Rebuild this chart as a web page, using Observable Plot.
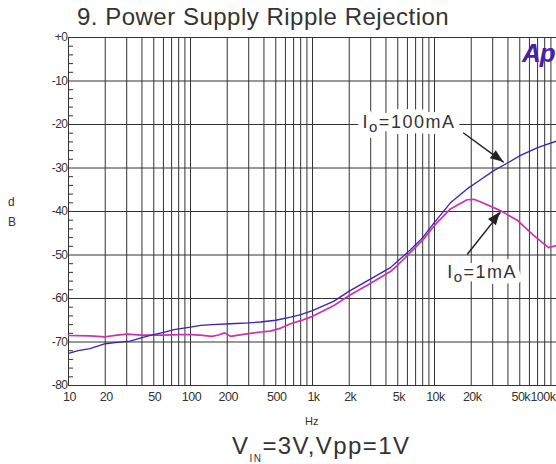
<!DOCTYPE html>
<html><head><meta charset="utf-8">
<script src="https://cdn.jsdelivr.net/npm/d3@7"></script>
<script src="https://cdn.jsdelivr.net/npm/@observablehq/plot@0.6"></script>
<style>
body{margin:0;background:#fff;}
#wrap{position:relative;width:556px;height:464px;overflow:hidden;font-family:"Liberation Sans",Arial,sans-serif;background:#fff;}
#wrap svg{position:absolute;left:0;top:0;}
.abs{position:absolute;white-space:nowrap;line-height:1;}
#title{left:77px;top:5px;font-size:24px;color:#333;letter-spacing:0.5px;}
#caption{left:232px;top:434px;font-size:24px;color:#333;letter-spacing:1.4px;}
#caption sub{font-size:10px;vertical-align:-8px;letter-spacing:1.5px;}
#hz{left:305px;top:416px;font-size:11px;color:#333;}
#db{left:8px;top:192px;font-size:12px;color:#333;line-height:20px;}
#logo{left:522px;top:40px;font-size:26px;font-weight:bold;font-style:italic;color:#4a1fae;letter-spacing:-1px;}
</style></head>
<body>
<div id="wrap">
  <div class="abs" id="title">9. Power Supply Ripple Rejection</div>
  <div class="abs" id="caption">V<sub>IN</sub>=3V,Vpp=1V</div>
  <div class="abs" id="hz">Hz</div>
  <div class="abs" id="db">d<br>B</div>
</div>
<script>
// ---- data ----
const xGrid = [10,20,30,40,50,60,70,80,90,100,200,300,400,500,600,700,800,900,1000,2000,3000,4000,5000,6000,7000,8000,9000,10000,20000,30000,40000,50000,60000,70000,80000,90000,100000];
const yGrid = [0,-10,-20,-30,-40,-50,-60,-70,-80];
const yMinor = [-2,-4,-6,-8,-12,-14,-16,-18,-22,-24,-26,-28,-32,-34,-36,-38,-42,-44,-46,-48,-52,-54,-56,-58,-62,-64,-66,-68,-72,-74,-76,-78];
const yTickValues = [0,-10,-20,-30,-40,-50,-60,-70,-80];
const yTickLabels = ["+0","-10","-20","-30","-40","-50","-60","-70","-80"];
const xTickValues = [10,20,50,100,200,500,1000,2000,5000,10000,20000,50000];
const xTickLabels = ["10","20","50","100","200","500","1k","2k","5k","10k","20k","50k"];
const xLastValue = [100000];
const xLastLabel = ["100k"];

// Io = 100mA
const f100 = [10,12,15,20,25,32,40,47,60,75,100,121,150,213,300,375,500,661,800,1000,1500,2000,3000,4350,5000,6350,8000,10000,13500,18500,23800,30600,40000,50700,70000,100000];
const db100 = [-72.6,-72.0,-71.5,-70.4,-70.1,-69.8,-69.0,-68.5,-67.8,-67.1,-66.6,-66.2,-66.0,-65.8,-65.6,-65.4,-65.0,-64.3,-63.7,-62.8,-60.6,-58.3,-55.5,-52.9,-51.4,-48.8,-46.0,-42.5,-38.0,-34.8,-32.7,-30.6,-28.8,-27.1,-25.3,-23.8];
// Io = 1mA
const f1 = [10,15,20,25,30,40,60,80,100,120,150,170,190,213,280,375,450,550,661,800,1000,1500,2000,3000,4350,5000,6350,8000,10000,13500,18500,21000,24000,34700,47600,65000,86000,100000];
const db1 = [-68.5,-68.6,-68.8,-68.4,-68.2,-68.4,-68.4,-68.3,-68.3,-68.4,-68.7,-68.4,-67.9,-68.7,-68.2,-67.7,-67.5,-66.8,-65.8,-65.1,-64.1,-61.6,-59.3,-56.5,-53.8,-52.3,-49.4,-46.6,-43.2,-39.4,-37.3,-37.2,-37.8,-39.8,-42.0,-45.5,-48.3,-47.8];

// annotations
const annotLabels = ["Io=100mA","Io=1mA"];
const annotLabelF = [2570,12700];
const annotLabelDb = [-19.4,-54.0];
const arrowFromF = [17180,18520];
const arrowFromDb = [-21.9,-49.9];
const arrowToF = [36980,34750];
const arrowToDb = [-28.7,-40.2];

const blue = "#3d1fbb";
const magenta = "#cc33aa";
const gridColor = "#333";

const s100 = f100.map((f,i)=>({f, db: db100[i]}));
const s1 = f1.map((f,i)=>({f, db: db1[i]}));
const annots = annotLabels.map((t,i)=>({t, f: annotLabelF[i], db: annotLabelDb[i], f1: arrowFromF[i], d1: arrowFromDb[i], f2: arrowToF[i], d2: arrowToDb[i]}));

const tickFont = "'Liberation Sans Narrow','Liberation Sans',Arial,sans-serif";
const labelFont = "'Liberation Sans',Arial,sans-serif";

const chart = Plot.plot({
  width: 556, height: 464,
  marginLeft: 68, marginRight: 0, marginTop: 37, marginBottom: 79,
  x: {type: "log", domain: [10, 100000], axis: null},
  y: {domain: [-80, 0], axis: null},
  style: {background: "transparent", overflow: "visible"},
  marks: [
    Plot.ruleX(xGrid, {x: d=>d, stroke: gridColor, strokeWidth: 1}),
    Plot.ruleY(yGrid, {y: d=>d, stroke: gridColor, strokeWidth: 1}),
    Plot.axisY(yMinor, {anchor: "left", tickSize: -5, tickFormat: () => "", label: null, stroke: gridColor}),
    Plot.text(yTickValues, {y: d=>d, text: (d,i)=>yTickLabels[i], frameAnchor: "left", textAnchor: "end", dx: -1, fontSize: 12, fontFamily: tickFont, fill: "#333"}),
    Plot.text(xTickValues, {x: d=>d, text: (d,i)=>xTickLabels[i], frameAnchor: "bottom", dy: 15, dx: 1, fontSize: 12.5, fontFamily: tickFont, fill: "#333"}),
    Plot.text(xLastValue, {x: d=>d, text: (d,i)=>xLastLabel[i], frameAnchor: "bottom", dy: 15, textAnchor: "end", dx: -1, fontSize: 12.5, fontFamily: tickFont, fill: "#333"}),
    Plot.line(s1, {x: "f", y: "db", stroke: magenta, strokeWidth: 1.7}),
    Plot.line(s100, {x: "f", y: "db", stroke: blue, strokeWidth: 1.3}),
    Plot.text(annots, {x: "f", y: "db", text: "t", textAnchor: "start", fontSize: 18, fill: "white", stroke: "white", strokeWidth: 12, fontFamily: labelFont}),
    Plot.text(annots, {x: "f", y: "db", text: "t", textAnchor: "start", fontSize: 18, fill: "#333", fontFamily: labelFont}),
    Plot.link(annots, {x1: "f1", y1: "d1", x2: "f2", y2: "d2", stroke: "#222", strokeWidth: 1.5})
  ]
});

document.getElementById("wrap").appendChild(chart);
const svg = d3.select(chart);

// tick label letter spacing
svg.selectAll("text").filter(function(){ return /^[+\-0-9k]+$/.test(this.textContent); }).attr("letter-spacing", "-0.5");

// subscripts in annotation labels
svg.selectAll("text").filter(function(){ return this.textContent.startsWith("Io="); }).each(function(){
  const rest = this.textContent.slice(2);
  const t = d3.select(this).text("").attr("letter-spacing", "1.5");
  t.append("tspan").text("I");
  t.append("tspan").attr("font-size", 15).attr("dy", 4).text("o");
  t.append("tspan").attr("dy", -4).text(rest);
});

// filled arrow heads
const sx = chart.scale("x"), sy = chart.scale("y");
annots.forEach(a => {
  const x1 = sx.apply(a.f1), y1 = sy.apply(a.d1), x2 = sx.apply(a.f2), y2 = sy.apply(a.d2);
  const dx = x2 - x1, dy = y2 - y1, L = Math.hypot(dx, dy);
  const ux = dx / L, uy = dy / L, len = 13, hw = 5;
  const bx = x2 - ux * len, by = y2 - uy * len;
  svg.append("path")
    .attr("d", `M${x2},${y2}L${bx - uy * hw},${by + ux * hw}L${bx + uy * hw},${by - ux * hw}Z`)
    .attr("fill", "#222");
});

// logo
const logo = document.createElement("div");
logo.className = "abs"; logo.id = "logo"; logo.textContent = "Ap";
document.getElementById("wrap").appendChild(logo);
</script>
</body></html>
